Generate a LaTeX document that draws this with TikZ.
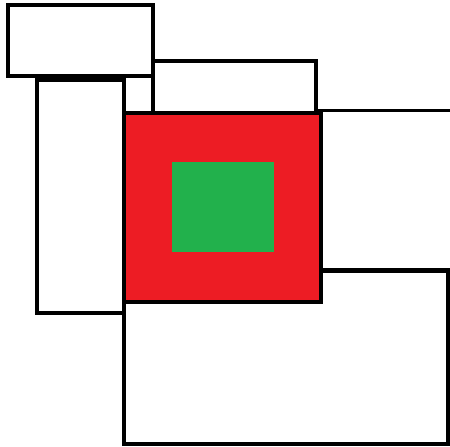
\documentclass[tikz,border=0pt]{standalone}
\usepackage{tikz}
\definecolor{paintred}{RGB}{237,28,36}
\definecolor{paintgreen}{RGB}{34,177,76}

\begin{document}
\begin{tikzpicture}[x=1pt,y=-1pt,
    wall/.style={draw=black,line width=4.6pt,line join=miter},
    thinwall/.style={draw=black,line width=3.8pt}]
  \useasboundingbox (0,0) rectangle (450,447);
  % boxes round the red block
  \draw[wall] (8,5) rectangle (153,76);
  \draw[wall] (153,76) -- (153,112);
  \draw[thinwall] (153,61) -- (316,61) -- (316,112);
  \draw[wall] (37,79) -- (124,79) -- (124,313) -- (37,313) -- cycle;
  \draw[line width=5.6pt] (37,79) -- (124,79);
  \draw[thinwall] (316,110.5) -- (450,110.5);
  \draw[wall] (124,302) -- (124,444) -- (448.5,444) -- (448.5,270.5) -- (321,270.5);
  % red block and green core
  \filldraw[wall,fill=paintred] (124,113) rectangle (321,302);
  \fill[paintgreen] (172,162) rectangle (274,252);
\end{tikzpicture}
\end{document}
